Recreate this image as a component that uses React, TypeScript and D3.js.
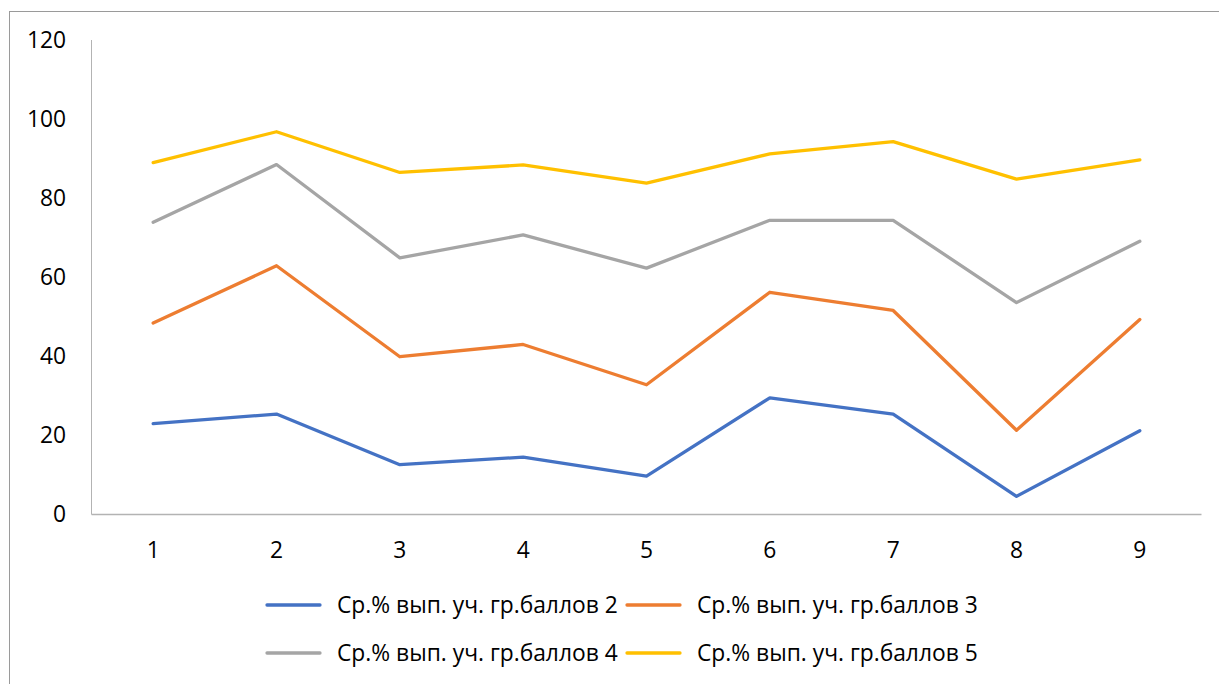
import React, { useRef, useEffect } from 'react';
import * as d3 from 'd3';

// x categories and series values
const categories = ['1', '2', '3', '4', '5', '6', '7', '8', '9'];
const yTicks = [0, 20, 40, 60, 80, 100, 120];

const seriesNames = [
  'Ср.% вып. уч. гр.баллов 2',
  'Ср.% вып. уч. гр.баллов 3',
  'Ср.% вып. уч. гр.баллов 4',
  'Ср.% вып. уч. гр.баллов 5',
];
const grade2 = [23.0, 25.4, 12.6, 14.5, 9.7, 29.5, 25.4, 4.6, 21.2];
const grade3 = [48.4, 62.9, 39.9, 43.0, 32.8, 56.2, 51.6, 21.3, 49.3];
const grade4 = [73.9, 88.5, 64.9, 70.7, 62.3, 74.4, 74.4, 53.6, 69.1];
const grade5 = [89.0, 96.8, 86.5, 88.4, 83.8, 91.2, 94.3, 84.8, 89.7];
const seriesColors = ['#4472C4', '#ED7D31', '#A5A5A5', '#FFC000'];

const FONT = '"Open Sans", "Noto Sans", sans-serif';
const FONT_SIZE = '22.8px';

const App: React.FC = () => {
  const ref = useRef<SVGSVGElement | null>(null);

  useEffect(() => {
    if (!ref.current) return;
    const width = 1219;
    const height = 684;
    const margin = { top: 40, right: 17.5, bottom: 169, left: 91.5 };
    const svg = d3.select(ref.current);
    svg.selectAll('*').remove();
    svg.attr('width', width).attr('height', height);

    // chart frame (runs off the right and bottom edges)
    svg.append('rect')
      .attr('x', 9.5).attr('y', 11.5)
      .attr('width', width + 20).attr('height', height + 20)
      .attr('fill', '#fff')
      .attr('stroke', '#9a9a9a')
      .attr('stroke-width', 1);

    const x = d3.scaleBand<string>()
      .domain(categories)
      .range([margin.left, width - margin.right]);
    const y = d3.scaleLinear()
      .domain([0, 120])
      .range([height - margin.bottom - 0.5, margin.top]);

    // axis lines
    svg.append('line')
      .attr('x1', margin.left).attr('x2', margin.left)
      .attr('y1', y(120)).attr('y2', y(0))
      .attr('stroke', '#b3b3b3').attr('stroke-width', 1);
    svg.append('line')
      .attr('x1', margin.left).attr('x2', width - margin.right)
      .attr('y1', y(0)).attr('y2', y(0))
      .attr('stroke', '#b3b3b3').attr('stroke-width', 1.3);

    // y tick labels
    svg.append('g')
      .selectAll('text')
      .data(yTicks)
      .enter()
      .append('text')
      .attr('x', 66)
      .attr('y', d => y(d))
      .attr('dy', '0.35em')
      .attr('text-anchor', 'end')
      .attr('fill', '#000')
      .style('font-family', FONT)
      .style('font-size', FONT_SIZE)
      .text(d => d);

    // x tick labels
    svg.append('g')
      .selectAll('text')
      .data(categories)
      .enter()
      .append('text')
      .attr('x', d => (x(d) as number) + x.bandwidth() / 2)
      .attr('y', 550)
      .attr('dy', '0.35em')
      .attr('text-anchor', 'middle')
      .attr('fill', '#000')
      .style('font-family', FONT)
      .style('font-size', FONT_SIZE)
      .text(d => d);

    const line = d3.line<number>()
      .x((_, i) => (x(categories[i]) as number) + x.bandwidth() / 2)
      .y(d => y(d));

    const allSeries = [grade2, grade3, grade4, grade5];
    allSeries.forEach((values, i) => {
      svg.append('path')
        .datum(values)
        .attr('fill', 'none')
        .attr('stroke', seriesColors[i])
        .attr('stroke-width', 3.3)
        .attr('stroke-linejoin', 'round')
        .attr('stroke-linecap', 'round')
        .attr('d', line);
    });

    // legend, two columns x two rows
    const legendCols = [267, 627];
    const legendRows = [605, 653];
    seriesNames.forEach((name, i) => {
      const lx = legendCols[i % 2];
      const ly = legendRows[Math.floor(i / 2)];
      const g = svg.append('g');
      g.append('line')
        .attr('x1', lx).attr('x2', lx + 53)
        .attr('y1', ly).attr('y2', ly)
        .attr('stroke', seriesColors[i])
        .attr('stroke-width', 3.3)
        .attr('stroke-linecap', 'round');
      g.append('text')
        .attr('x', lx + 70)
        .attr('y', ly)
        .attr('dy', '0.35em')
        .attr('fill', '#000')
        .style('font-family', FONT)
        .style('font-size', FONT_SIZE)
        .text(name);
    });
  }, []);

  return (
    <svg ref={ref} style={{ position: 'absolute', left: 0, top: 0, display: 'block' }}></svg>
  );
};

export default App;
